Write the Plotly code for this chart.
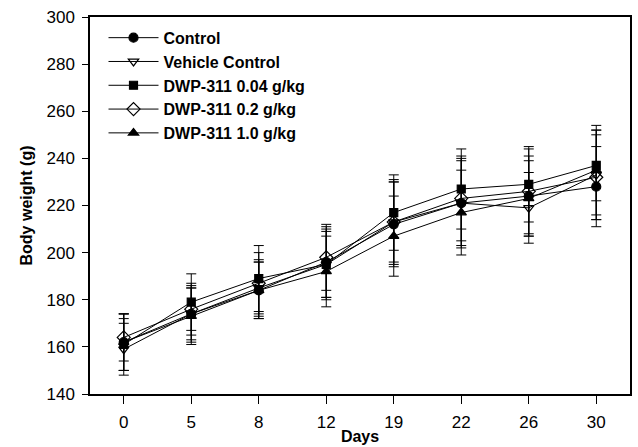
import plotly.graph_objects as go

days = ["0", "5", "8", "12", "19", "22", "26", "30"]
series_names = ["Control", "Vehicle Control", "DWP-311 0.04 g/kg", "DWP-311 0.2 g/kg", "DWP-311 1.0 g/kg"]

control = [162, 174, 184, 196, 212, 221, 224, 228]
vehicle = [159, 174, 185, 195, 213, 221, 219, 233]
dwp_004 = [161, 179, 189, 195, 217, 227, 229, 237]
dwp_02 = [164, 176, 187, 198, 213, 223, 226, 232]
dwp_10 = [162, 173, 184, 192, 207, 217, 223, 235]

control_sd = [12, 12, 12, 15, 18, 18, 17, 17]
vehicle_sd = [11, 11, 12, 14, 17, 19, 15, 19]
dwp_004_sd = [11, 12, 14, 15, 16, 17, 16, 15]
dwp_02_sd = [10, 11, 13, 14, 18, 18, 18, 18]
dwp_10_sd = [12, 12, 12, 15, 17, 18, 16, 19]

values = [control, vehicle, dwp_004, dwp_02, dwp_10]
sds = [control_sd, vehicle_sd, dwp_004_sd, dwp_02_sd, dwp_10_sd]
symbols = ["circle", "triangle-down-open", "square", "diamond-open", "triangle-up"]
sizes = [9, 9, 8, 10, 9]

fig = go.Figure()
for name, v, sd, sym, sz in zip(series_names, values, sds, symbols, sizes):
    fig.add_trace(go.Scatter(
        x=days, y=v, name=name, mode="lines+markers",
        line=dict(color="black", width=1),
        marker=dict(symbol=sym, size=sz, color="black", line=dict(color="black", width=1.2)),
        error_y=dict(type="data", array=sd, visible=True, color="black", thickness=1, width=5),
    ))

fig.update_layout(
    width=638, height=447,
    margin=dict(l=90, r=8, t=17, b=53),
    paper_bgcolor="white", plot_bgcolor="white",
    font=dict(family="Liberation Sans, Arial, sans-serif", color="black", size=16),
    showlegend=True,
    legend=dict(
        x=0.025, y=0.99, xanchor="left", yanchor="top",
        bgcolor="rgba(0,0,0,0)",
        font=dict(size=16, family="Liberation Sans, Arial, sans-serif", weight="bold"),
        tracegroupgap=0, itemwidth=50,
    ),
)
fig.update_xaxes(
    type="category", range=[-0.5, 7.5], automargin=False,
    showline=True, linecolor="black", linewidth=1.5, mirror=True,
    ticks="outside", ticklen=8, tickcolor="black",
    showgrid=False, zeroline=False,
    tickfont=dict(size=17), ticklabelstandoff=4,
    title=dict(text="<b>Days</b>", font=dict(size=16), standoff=0),
)
fig.update_yaxes(
    range=[140, 300], dtick=20, automargin=False,
    showline=True, linecolor="black", linewidth=1.5, mirror=True,
    ticks="outside", ticklen=6, tickcolor="black",
    showgrid=False, zeroline=False,
    tickfont=dict(size=17), ticklabelstandoff=4,
    title=dict(text="<b>Body weight (g)</b>", font=dict(size=16), standoff=10),
)

fig.write_html("out.html")
